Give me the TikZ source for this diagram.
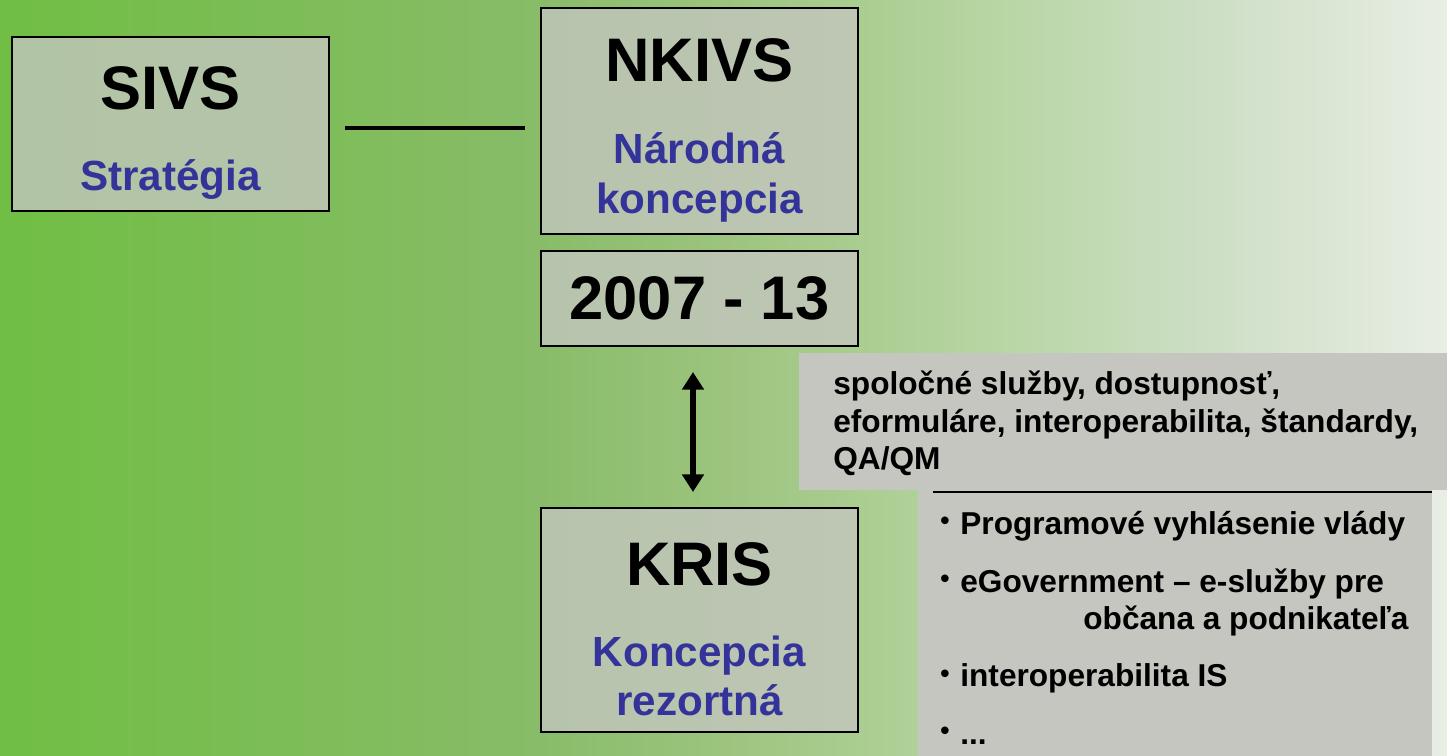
\documentclass[tikz,border=0pt]{standalone}
\usepackage{fontspec}
\setmainfont{Liberation Sans}
\usetikzlibrary{arrows.meta,positioning}
\definecolor{boxgray}{HTML}{C3C6BE}
\definecolor{panelgray}{HTML}{C4C6BF}
\definecolor{subblue}{HTML}{333399}
\pgfdeclarehorizontalshading{bgshade}{100bp}{color(0bp)=(rgb,255:red,112;green,190;blue,68); color(25bp)=(rgb,255:red,112;green,190;blue,68); color(43.5bp)=(rgb,255:red,136;green,188;blue,104); color(50bp)=(rgb,255:red,156;green,196;blue,126); color(59.5bp)=(rgb,255:red,184;green,214;blue,164); color(66.5bp)=(rgb,255:red,204;green,222;blue,196); color(75bp)=(rgb,255:red,232;green,238;blue,228); color(100bp)=(rgb,255:red,232;green,238;blue,228)}
\newcommand{\boxtitle}[1]{{\fontsize{35}{40}\selectfont\rule{0pt}{35pt}#1}}
\newcommand{\itemdot}{\makebox[0.4cm][l]{\fontsize{15}{15}\selectfont\raisebox{2.6pt}{\textbullet}}}

\begin{document}
\begin{tikzpicture}[
    box/.style={draw, line width=1.1pt, fill=boxgray, fill opacity=0.8, text opacity=1, align=center, inner sep=0pt, outer sep=0pt, minimum width=6.34cm, font=\bfseries\fontsize{24}{28.4}\selectfont},
    panel/.style={fill=panelgray, inner sep=0pt, outer sep=0pt, anchor=north west},
    paneltext/.style={inner sep=0pt, anchor=north west, align=left, font=\bfseries\fontsize{18}{21.3}\selectfont},
    link/.style={line width=2.3pt},
    arrow/.style={{Triangle[width=12pt,length=10pt]}-{Triangle[width=12pt,length=10pt]}, line width=3pt}
  ]
    \shade[shading=bgshade] (0,0) rectangle (28.94,-15.12);
    \useasboundingbox (0,0) rectangle (28.94,-15.12);
    % boxes on the left
    \node[box, minimum height=3.48cm] (sivs) at (3.41,-2.48) {\boxtitle{SIVS}\\[17.6pt]\textcolor{subblue}{Stratégia}};
    \node[box, minimum height=4.52cm] (nkivs) at (13.99,-2.42) {\boxtitle{NKIVS}\\[18.6pt]\textcolor{subblue}{Národná}\\\textcolor{subblue}{koncepcia}};
    \node[box, minimum height=1.9cm, below=0.34cm of nkivs] (period) {{\fontsize{35}{40}\selectfont 2007 - 13}};
    \node[box, minimum height=4.48cm, below=3.24cm of period] (kris) {\boxtitle{KRIS}\\[17.6pt]\textcolor{subblue}{Koncepcia}\\\textcolor{subblue}{rezortná}};
    % panels on the right
    \node[panel, minimum width=12.96cm, minimum height=2.74cm] (services) at (15.98,-7.06) {};
    \node[paneltext] (servicestext) at (16.66,-7.42) {spoločné služby, dostupnosť,\\eformuláre, interoperabilita, štandardy,\\QA/QM};
    \node[panel, minimum width=10.28cm, minimum height=5.32cm] (goals) at (18.36,-9.8) {};
    \node[paneltext] (goalstext) at (18.8,-10.22) {\itemdot Programové vyhlásenie vlády\\[11.4pt]
      \itemdot eGovernment – e-služby pre\\
      \hspace*{2.86cm}občana a podnikateľa\\[11.4pt]
      \itemdot interoperabilita IS\\[11.4pt]
      \itemdot ...};
    % connectors
    \draw[link, shorten <=0.32cm, shorten >=0.32cm] ([yshift=-0.08cm]sivs.east) -- ([yshift=-0.08cm]sivs.east -| nkivs.west);
    \draw[arrow, shorten <=0.52cm, shorten >=0.32cm] ([xshift=-0.13cm]period.south) -- ([xshift=-0.13cm]kris.north);
    \draw[line width=1.2pt] ([xshift=0.3cm,yshift=-0.04cm]goals.north west) -- ([yshift=-0.04cm]goals.north east);
  \end{tikzpicture}
\end{document}
